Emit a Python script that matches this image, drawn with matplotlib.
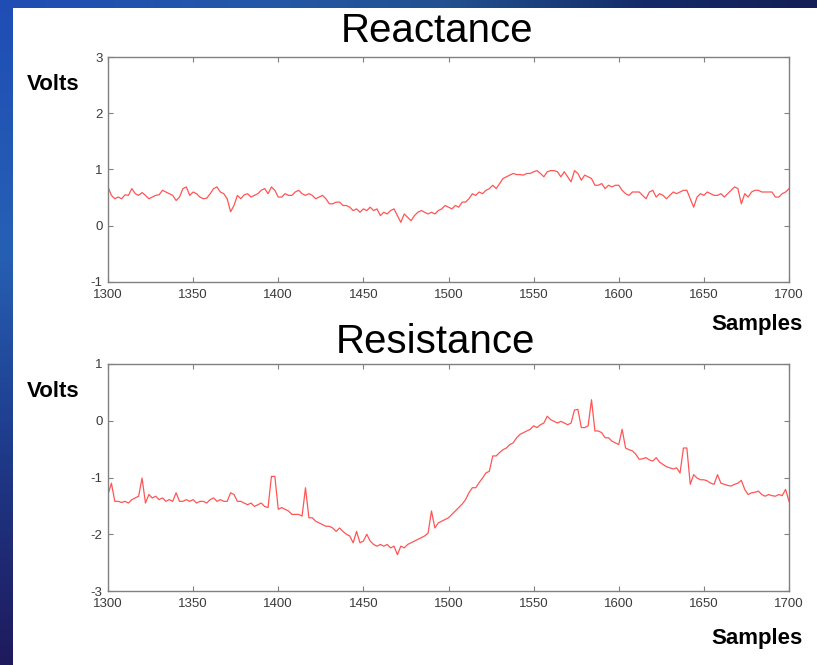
import numpy as np
import matplotlib
matplotlib.use('Agg')
import matplotlib.pyplot as plt

# ---------------- data ----------------
samples = np.arange(1300, 1701, 2)

reactance = [
    0.69, 0.54, 0.48, 0.51, 0.48, 0.55, 0.54, 0.66, 0.57, 0.54,
    0.59, 0.54, 0.48, 0.51, 0.54, 0.55, 0.63, 0.60, 0.57, 0.54,
    0.45, 0.51, 0.66, 0.69, 0.54, 0.60, 0.57, 0.51, 0.48, 0.49,
    0.57, 0.66, 0.69, 0.60, 0.57, 0.48, 0.25, 0.36, 0.54, 0.48,
    0.55, 0.57, 0.51, 0.54, 0.57, 0.63, 0.66, 0.57, 0.69, 0.63,
    0.51, 0.51, 0.57, 0.54, 0.54, 0.60, 0.63, 0.57, 0.54,
    0.57, 0.54, 0.48, 0.51, 0.54, 0.48, 0.39, 0.39, 0.42, 0.42,
    0.36, 0.36, 0.33, 0.27, 0.30,
    0.24, 0.30, 0.27, 0.33, 0.27, 0.30, 0.18, 0.24, 0.21, 0.27,
    0.30, 0.18, 0.06, 0.21, 0.15, 0.09, 0.18, 0.24, 0.27, 0.24,
    0.21, 0.24, 0.21, 0.27, 0.30, 0.36, 0.33, 0.30, 0.36, 0.33,
    0.42, 0.42, 0.48, 0.57, 0.54, 0.60, 0.57, 0.63, 0.66, 0.72,
    0.66, 0.75, 0.84, 0.87, 0.90, 0.93, 0.91, 0.91, 0.90, 0.93,
    0.93, 0.96, 0.98, 0.93, 0.87, 0.96, 0.98, 0.98, 0.96, 0.87,
    0.96, 0.87, 0.78, 0.98, 0.93, 0.81, 0.90, 0.87, 0.84, 0.72,
    0.72, 0.75, 0.66, 0.72, 0.69, 0.72, 0.72, 0.63, 0.57, 0.54,
    0.60, 0.60, 0.60, 0.54, 0.48, 0.60, 0.63, 0.51, 0.57, 0.54,
    0.48, 0.54, 0.60, 0.57, 0.60, 0.63, 0.63, 0.48, 0.33, 0.51,
    0.57, 0.54, 0.60, 0.57, 0.54, 0.54, 0.57, 0.51, 0.57, 0.63,
    0.69, 0.66, 0.39, 0.57, 0.51, 0.60, 0.63, 0.63, 0.60, 0.60,
    0.60, 0.60, 0.51, 0.51, 0.57, 0.60, 0.66,
]

resistance = [
    -1.30, -1.10, -1.42, -1.42, -1.44, -1.42, -1.45, -1.39, -1.36, -1.33,
    -1.01, -1.45, -1.30, -1.36, -1.33, -1.39, -1.36, -1.42, -1.39, -1.42,
    -1.27, -1.42, -1.42, -1.39, -1.42, -1.39, -1.45, -1.42, -1.42, -1.45,
    -1.39, -1.36, -1.42, -1.39, -1.42, -1.42, -1.27, -1.30, -1.42, -1.42,
    -1.45, -1.48, -1.45, -1.51, -1.48, -1.45, -1.51, -1.53, -0.98, -0.98,
    -1.56, -1.53, -1.56, -1.59, -1.65, -1.65, -1.65, -1.68, -1.18, -1.71,
    -1.71, -1.77, -1.80, -1.83, -1.86, -1.86, -1.89, -1.95, -1.89, -1.95,
    -2.00, -2.03, -2.15, -1.95,
    -2.15, -2.12, -2.00, -2.12, -2.18, -2.21, -2.18, -2.21, -2.18, -2.24,
    -2.21, -2.36, -2.21, -2.24, -2.18, -2.15, -2.12, -2.09, -2.06, -2.03,
    -1.98, -1.59, -1.89, -1.80, -1.77, -1.74, -1.71, -1.65, -1.59, -1.53,
    -1.47, -1.39, -1.27, -1.18, -1.18, -1.09, -1.01, -0.92, -0.89, -0.62,
    -0.62, -0.56, -0.51, -0.48, -0.42, -0.39, -0.30, -0.24, -0.21, -0.18,
    -0.15, -0.09, -0.12, -0.07, -0.04, 0.08, 0.02, -0.01, -0.04, -0.01,
    -0.04, -0.07, -0.04, 0.19,
    0.20, -0.12, -0.12, -0.09, 0.37, -0.18, -0.18, -0.21, -0.30, -0.30,
    -0.36, -0.39, -0.42, -0.15, -0.48, -0.51, -0.53, -0.59, -0.68, -0.67,
    -0.65, -0.69, -0.71, -0.65, -0.73, -0.77, -0.81, -0.83, -0.85, -0.83,
    -0.92, -0.48, -0.48, -1.12, -0.95, -1.01, -1.04, -1.04, -1.06, -1.10,
    -1.12, -0.95, -1.10, -1.12, -1.14, -1.15, -1.12, -1.10, -1.05, -1.21,
    -1.30, -1.27, -1.26, -1.24, -1.30, -1.33, -1.30, -1.32, -1.33, -1.30,
    -1.32, -1.21, -1.42,
]

x_ticks = [1300, 1350, 1400, 1450, 1500, 1550, 1600, 1650, 1700]
react_yticks = [-1, 0, 1, 2, 3]
resist_yticks = [-3, -2, -1, 0, 1]
titles = ['Reactance', 'Resistance']
y_label = 'Volts'
x_label = 'Samples'

# ---------------- figure ----------------
plt.rcParams['font.family'] = ['Liberation Sans', 'DejaVu Sans']
plt.rcParams['axes.unicode_minus'] = False

W, H = 817, 665
fig = plt.figure(figsize=(W / 100, H / 100), dpi=100)
fig.patch.set_facecolor('white')

# decorative slide background strips (left and top)
def hex2rgb(h):
    h = h.lstrip('#')
    return np.array([int(h[i:i + 2], 16) / 255 for i in (0, 2, 4)])

img = np.ones((H, W, 3))
lstrip, tstrip = 13, 8
vpos = [0, 250, 450, H]
vcol = [hex2rgb(c) for c in ['#1f4db5', '#2660b4', '#1f3a8a', '#1e1a5c']]
rows = np.arange(H)
for ch in range(3):
    col = np.interp(rows, vpos, [c[ch] for c in vcol])
    img[:, :lstrip, ch] = col[:, None]
hpos = [0, 250, 450, 650, W]
hcol = [hex2rgb(c) for c in ['#1f4db5', '#2458a8', '#22508f', '#142a68', '#131f55']]
cols = np.arange(W)
for ch in range(3):
    col = np.interp(cols, hpos, [c[ch] for c in hcol])
    img[:tstrip, :, ch] = col[None, :]

bg = fig.add_axes([0, 0, 1, 1], zorder=-10)
bg.imshow(img, aspect='auto', extent=[0, 1, 0, 1], interpolation='nearest')
bg.set_axis_off()

line_color = '#ff5555'
spine_color = '#808080'


def style_axes(ax, yticks):
    ax.set_xlim(1300, 1700)
    ax.set_ylim(yticks[0], yticks[-1])
    ax.set_xticks(x_ticks)
    ax.set_yticks(yticks)
    ax.tick_params(direction='in', top=True, right=True, length=3.5,
                   width=0.8, color=spine_color, labelcolor='#3a3a3a',
                   labelsize=9.5)
    ax.tick_params(axis='x', pad=5)
    ax.tick_params(axis='y', pad=4)
    for s in ax.spines.values():
        s.set_color(spine_color)
        s.set_linewidth(1.0)


ax1 = fig.add_axes([108 / W, 1 - 282 / H, (789 - 108) / W, 225 / H])
ax1.plot(samples, reactance, color=line_color, lw=0.9)
style_axes(ax1, react_yticks)

ax2 = fig.add_axes([108 / W, 1 - 591 / H, (789 - 108) / W, 227 / H])
ax2.plot(samples, resistance, color=line_color, lw=0.9)
style_axes(ax2, resist_yticks)

# titles and labels
fig.text(437 / W, 1 - 42 / H, titles[0], fontsize=29, ha='center', va='baseline')
fig.text(435 / W, 1 - 353 / H, titles[1], fontsize=29, ha='center', va='baseline')
fig.text(27 / W, 1 - 90 / H, y_label, fontsize=16, fontweight='bold', ha='left', va='baseline')
fig.text(27 / W, 1 - 397 / H, y_label, fontsize=16, fontweight='bold', ha='left', va='baseline')
fig.text(803 / W, 1 - 330 / H, x_label, fontsize=16, fontweight='bold', ha='right', va='baseline')
fig.text(803 / W, 1 - 644 / H, x_label, fontsize=16, fontweight='bold', ha='right', va='baseline')

fig.savefig('out.png', dpi=100)
